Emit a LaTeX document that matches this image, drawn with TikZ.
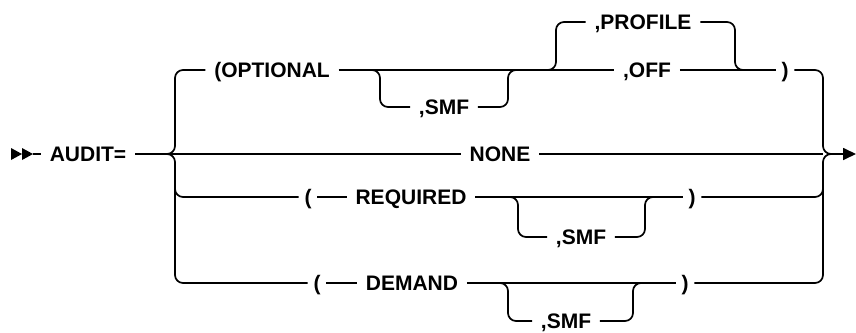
\documentclass[tikz,border=0pt]{standalone}
\usepackage{fontspec}
\setmainfont{Liberation Sans}
\usetikzlibrary{arrows.meta,calc}
\begin{document}
\begin{tikzpicture}[x=1pt,y=-1pt,
  line width=1.7pt,
  rr/.style={rounded corners=8pt},
  lbl/.style={font=\fontsize{21}{25}\selectfont\bfseries,inner xsep=8pt,inner ysep=0pt,text height=15pt,text depth=0pt,anchor=center},
  par/.style={lbl,inner xsep=5pt}]
\useasboundingbox (0,0) rectangle (856,332);
% nodes
\node[lbl] (audit) at (88,154) {AUDIT=};
\node[lbl] (opt) at (272,70) {(OPTIONAL};
\node[lbl] (smf1) at (444,107) {,SMF};
\node[lbl] (prof) at (643,22) {,PROFILE};
\node[lbl] (off) at (647,70) {,OFF};
\node[par] (rp1) at (785,70) {)};
\node[lbl] (none) at (500,154) {NONE};
\node[par] (lp2) at (308,197) {(};
\node[lbl] (req) at (411,197) {REQUIRED};
\node[par] (rp2) at (692,197) {)};
\node[lbl] (smf2) at (581,237) {,SMF};
\node[par] (lp3) at (317,283) {(};
\node[lbl] (dem) at (412,283) {DEMAND};
\node[par] (rp3) at (685,283) {)};
\node[lbl] (smf3) at (566,321) {,SMF};
% coordinates
\coordinate (st) at (33,154);
\coordinate (L) at (175,154);
\coordinate (L2) at (175,175);
\coordinate (R) at (823,154);
\coordinate (R2) at (823,175);
\coordinate (E) at (856,154);
\coordinate (s1a) at (380,70);
\coordinate (s1b) at (508,70);
\coordinate (p1a) at (556,70);
\coordinate (p1b) at (735,70);
\coordinate (s2a) at (518,197);
\coordinate (s2b) at (645,197);
\coordinate (s3a) at (508,283);
\coordinate (s3b) at (633,283);
% start double arrowhead
\fill (11,148) -- (22,154) -- (11,160) -- cycle;
\fill (22,148) -- (33,154) -- (22,160) -- cycle;
\draw (st) -- (audit.west);
% left bus
\draw[rr] (audit.east) -- (L) |- (opt.west);
\draw[rr] (audit.east) -- (L) |- (lp3.west);
\draw[rr] (L2) |- (lp2.west);
\draw (audit.east) -- (none.west);
% top row
\draw (opt.east) -- (off.west);
\draw (off.east) -- (rp1.west);
\draw[rr] ($(s1a)+(-8,0)$) -- (s1a) |- (smf1.west);
\draw[rr] (smf1.east) -| (s1b) -- ++(8,0);
\draw[rr] ($(p1a)+(-8,0)$) -- (p1a) |- (prof.west);
\draw[rr] (prof.east) -| (p1b) -- ++(8,0);
% required row
\draw (lp2.east) -- (req.west);
\draw (req.east) -- (rp2.west);
\draw[rr] ($(s2a)+(-8,0)$) -- (s2a) |- (smf2.west);
\draw[rr] (smf2.east) -| (s2b) -- ++(8,0);
% demand row
\draw (lp3.east) -- (dem.west);
\draw (dem.east) -- (rp3.west);
\draw[rr] ($(s3a)+(-8,0)$) -- (s3a) |- (smf3.west);
\draw[rr] (smf3.east) -| (s3b) -- ++(8,0);
% right bus
\draw (none.east) -- (R);
\draw[rr,-{Triangle[length=13pt,width=12pt]}] (rp1.east) -| (R) -- (E);
\draw[rr] (rp3.east) -| (R) -- ($(R)+(10,0)$);
\draw[rr] (rp2.east) -| (R2);
\end{tikzpicture}
\end{document}
